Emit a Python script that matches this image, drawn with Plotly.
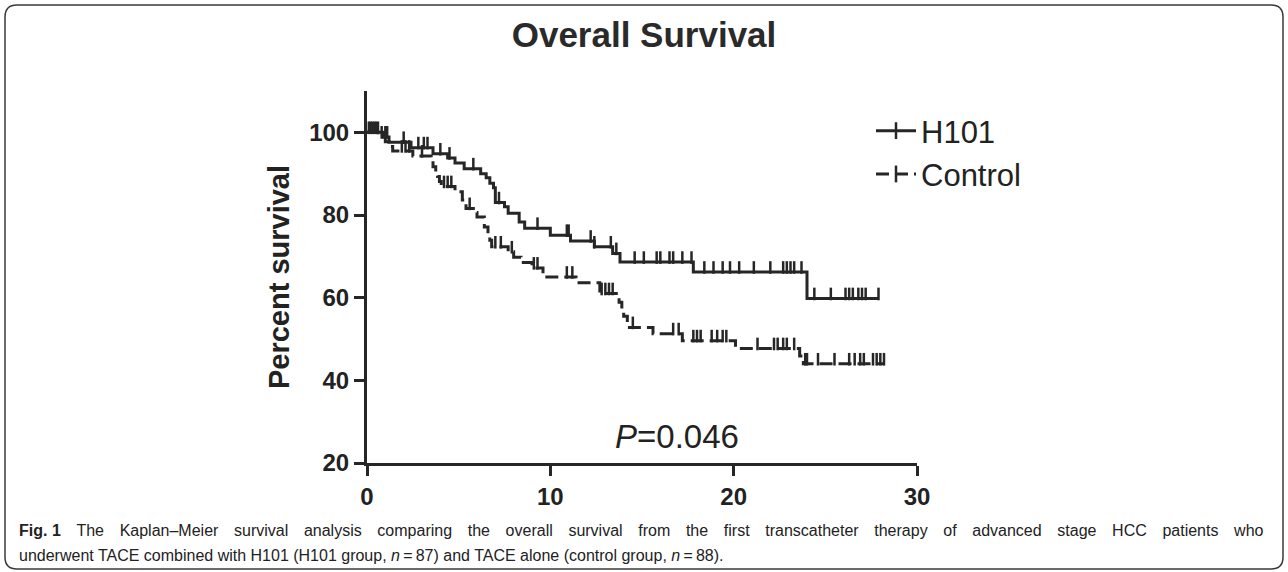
import plotly.graph_objects as go

W, H = 1288, 572
L, R, T, B = 367, 371, 91, 109
PW, PH = W - L - R, H - T - B

# ---------------- data ----------------
h101_event_t = [0, 0.9, 1.2, 2.4, 3.6, 4.4, 4.8, 5.3, 6.2, 6.5, 6.7, 6.9, 7.0, 7.5, 7.7,
                8.3, 8.6, 10.0, 11.1, 12.4, 13.4, 13.8, 17.8, 24.0]
h101_event_s = [100, 98.9, 97.6, 96.3, 94.8, 93.8, 92.6, 91.2, 90.0, 89.0, 87.7, 86.6, 83.0, 82.0, 80.4,
                78.3, 76.8, 75.1, 73.7, 72.3, 70.7, 68.6, 66.2, 59.8]
h101_end_t = 27.9
h101_censor_t = [0.2, 0.4, 0.6, 1.0, 1.1, 2.0, 2.8, 3.1, 3.3, 4.0, 4.5, 5.8, 7.2, 9.3, 10.9, 11.0,
                 12.2, 12.4, 13.3, 13.6, 14.6, 15.1, 15.8, 16.0, 16.5, 16.7, 17.2, 17.7,
                 18.4, 18.9, 19.4, 19.8, 20.3, 21.1, 22.0, 22.7, 22.9, 23.1, 23.3, 23.7,
                 24.4, 25.3, 26.1, 26.3, 26.5, 26.8, 27.0, 27.2, 27.9]

ctrl_event_t = [0, 0.6, 1.0, 1.2, 1.4, 2.5, 3.5, 3.6, 3.75, 3.85, 3.95, 4.05, 4.8, 5.2, 5.4, 5.8,
                6.0, 6.4, 6.6, 6.7, 6.8, 7.7, 8.0, 8.4, 9.0, 9.6, 11.4, 12.7, 13.75, 13.9, 14.0,
                14.2, 15.6, 17.2, 20.1, 23.6, 23.8]
ctrl_event_s = [100, 98.9, 97.7, 96.6, 95.5, 94.3, 93.0, 91.7, 90.5, 89.3, 88.1, 86.9, 85.6, 83.6, 81.6, 80.6,
                79.5, 77.1, 75.5, 73.9, 72.3, 71.1, 69.8, 68.5, 67.2, 65.0, 63.6, 61.0, 58.9, 57.0, 55.5,
                52.8, 51.3, 49.6, 47.7, 45.9, 44.0]
ctrl_end_t = 28.2
ctrl_censor_t = [0.1, 0.3, 0.5, 0.8, 1.9, 2.1, 2.3, 3.0, 4.2, 4.4, 4.6, 5.6, 7.0, 7.3, 7.9, 9.1,
                 9.3, 10.9, 11.2, 12.8, 13.0, 13.2, 13.4, 14.5, 16.7, 17.0, 17.8, 18.0, 18.2,
                 18.8, 19.1, 19.4, 19.6, 21.3, 22.2, 22.4, 22.7, 22.9, 23.3, 23.9, 24.0, 24.6,
                 25.5, 26.3, 26.6, 26.9, 27.1, 27.6, 27.8, 28.0, 28.2]

series_names = ["H101", "Control"]
x_ticks = [0, 10, 20, 30]
y_ticks = [20, 40, 60, 80, 100]
p_text = "<i>P</i>=0.046"
p_pos = (16.9, 26.3)
title_text = "Overall Survival"
y_title = "Percent survival"
caption_l1_words = ["<b>Fig.\u00a01</b>", "The", "Kaplan\u2013Meier", "survival", "analysis", "comparing", "the",
                    "overall", "survival", "from", "the", "first", "transcatheter", "therapy", "of", "advanced",
                    "stage", "HCC", "patients", "who"]
caption_l2 = ("underwent TACE combined with H101 (H101 group, <i>n</i>\u2009=\u200987) and TACE alone "
              "(control group, <i>n</i>\u2009=\u200988).")

INK = "#262626"
FONT = "Liberation Sans, Arial, Helvetica, sans-serif"
CAP_SIZE = 16
JUSTIFY_GAP = " \u2002\u2009"  # widened word gap so the first caption line is justified


def level_at(ts, ss, t):
    lvl = ss[0]
    for ti, si in zip(ts, ss):
        if ti <= t:
            lvl = si
    return lvl


def px_x(px):
    return (px - L) / PW


def px_y(py):
    return (H - B - py) / PH


fig = go.Figure()

tick_off = 1.1  # censor ticks drawn upward from the curve (in % units)
for name, ts, ss, tend, cens, dash in [
    (series_names[0], h101_event_t, h101_event_s, h101_end_t, h101_censor_t, "solid"),
    (series_names[1], ctrl_event_t, ctrl_event_s, ctrl_end_t, ctrl_censor_t, "13px,6px"),
]:
    fig.add_trace(go.Scatter(
        x=ts + [tend], y=ss + [ss[-1]], mode="lines", line=dict(shape="hv", color=INK, width=3, dash=dash),
        showlegend=False, cliponaxis=False, hoverinfo="skip"))
    fig.add_trace(go.Scatter(
        x=cens, y=[level_at(ts, ss, c) + tick_off for c in cens], mode="markers",
        marker=dict(symbol="line-ns", size=9, line=dict(color=INK, width=2.5)),
        showlegend=False, cliponaxis=False, hoverinfo="skip"))
    fig.add_trace(go.Scatter(
        x=[None], y=[None], name=name, mode="lines+markers",
        line=dict(color=INK, width=3, dash=dash),
        marker=dict(symbol="line-ns", size=12, line=dict(color=INK, width=2.5))))

fig.add_annotation(x=p_pos[0], y=p_pos[1], xref="x", yref="y", text=p_text, showarrow=False,
                   font=dict(family=FONT, size=33, color="#222"))

# caption
fig.add_annotation(x=px_x(17), y=px_y(530), xref="paper", yref="paper", xanchor="left", yanchor="middle",
                   text=JUSTIFY_GAP.join(caption_l1_words), showarrow=False,
                   font=dict(family=FONT, size=CAP_SIZE, color="#222"))
fig.add_annotation(x=px_x(17), y=px_y(555), xref="paper", yref="paper", xanchor="left", yanchor="middle",
                   text=caption_l2, showarrow=False, font=dict(family=FONT, size=CAP_SIZE, color="#222"))

# rounded frame
x0, y0, x1, y1 = px_x(5), px_y(5), px_x(1283), px_y(569)
rx, ry = 12 / PW, 12 / PH
path = (f"M {x0 + rx} {y0} L {x1 - rx} {y0} Q {x1} {y0} {x1} {y0 - ry} "
        f"L {x1} {y1 + ry} Q {x1} {y1} {x1 - rx} {y1} L {x0 + rx} {y1} Q {x0} {y1} {x0} {y1 + ry} "
        f"L {x0} {y0 - ry} Q {x0} {y0} {x0 + rx} {y0} Z")
fig.add_shape(type="path", path=path, xref="paper", yref="paper", line=dict(color="#3a3a3a", width=1.5))

axis_common = dict(showline=True, linewidth=3, linecolor=INK, ticks="outside", ticklen=10, tickwidth=3,
                   tickcolor=INK, showgrid=False, zeroline=False,
                   tickfont=dict(family=FONT, size=24, color="#222", weight="bold"))

fig.update_layout(
    width=W, height=H, margin=dict(l=L, r=R, t=T, b=B, autoexpand=False),
    paper_bgcolor="white", plot_bgcolor="white",
    title=dict(text=f"<b>{title_text}</b>", x=0.5, xanchor="center", y=1 - 35 / H, yanchor="middle",
               font=dict(family=FONT, size=35, color="#2a2a2a")),
    xaxis=dict(range=[0, 30], tickvals=x_ticks, **axis_common),
    yaxis=dict(range=[20, 110], tickvals=y_ticks,
               title=dict(text=f"<b>{y_title}</b>", standoff=12, font=dict(family=FONT, size=29, color="#222")),
               **axis_common),
    legend=dict(x=px_x(871), y=px_y(104), xanchor="left", yanchor="top", bgcolor="rgba(0,0,0,0)",
                font=dict(family=FONT, size=31, color="#222"), tracegroupgap=0, itemwidth=40),
    font=dict(family=FONT),
)

fig.write_html("out.html", config={"displayModeBar": False, "staticPlot": True},
               post_script="document.body.style.margin='0px';")
